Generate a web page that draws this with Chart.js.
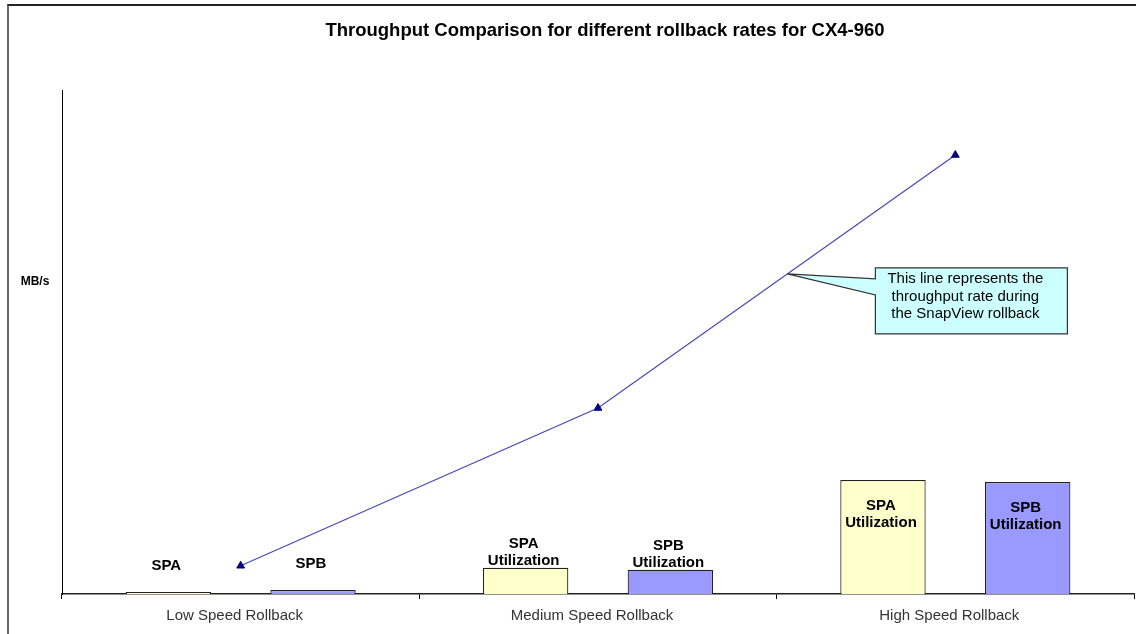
<!DOCTYPE html>
<html>
<head>
<meta charset="utf-8">
<script src="https://cdn.jsdelivr.net/npm/chart.js@4"></script>
<style>
    html, body { margin: 0; padding: 0; background: #fff; }
    #wrap { position: relative; width: 1136px; height: 634px; }
    #frame {
        position: absolute; left: 7px; top: 4px; right: 0; bottom: 0;
        border-left: 2px solid #666; border-top: 2px solid #222;
        pointer-events: none;
    }
</style>
</head>
<body>
<div id="wrap">
    <canvas id="grafico" width="1136" height="634"></canvas>
    <div id="frame"></div>
</div>
<script>
const categorias = ["Low Speed Rollback", "Medium Speed Rollback", "High Speed Rollback"];
const spaUtilizacao = [0.4, 5.2, 22.6];
const spbUtilizacao = [0.8, 4.8, 22.2];
const throughput = [5.6, 36.9, 87.1];
const rotulosSpa = [["SPA"], ["SPA", "Utilization"], ["SPA", "Utilization"]];
const rotulosSpb = [["SPB"], ["SPB", "Utilization"], ["SPB", "Utilization"]];
const textoNota = ["This line represents the", "throughput rate during", "the SnapView rollback"];
const titulo = "Throughput Comparison for different rollback rates for CX4-960";

// distance from bar top to first label line (Excel placed these by hand)
const deslocRotulos = [-26, -24, 26];

const fonte = "'Liberation Sans', Arial, sans-serif";

const textos = {
    id: "textos",
    afterDraw(chart) {
        const ctx = chart.ctx;

        ctx.save();
        ctx.fillStyle = "#000";
        ctx.textAlign = "center";
        ctx.textBaseline = "middle";

        // title
        ctx.font = "bold 18.5px " + fonte;
        ctx.fillText(titulo, 605, 31);

        // y label
        ctx.font = "bold 12px " + fonte;
        ctx.fillText("MB/s", 35, 282);

        // bar labels
        ctx.font = "bold 15px " + fonte;
        [rotulosSpa, rotulosSpb].forEach((rotulos, ds) => {
            const meta = chart.getDatasetMeta(ds);
            meta.data.forEach((barra, i) => {
                rotulos[i].forEach((linha, k) => {
                    ctx.fillText(linha, barra.x - 2, barra.y + deslocRotulos[i] + k * 17);
                });
            });
        });

        // callout pointing at the line
        const pts = chart.getDatasetMeta(2).data;
        const t = 0.53;
        const px = pts[1].x + (pts[2].x - pts[1].x) * t;
        const py = pts[1].y + (pts[2].y - pts[1].y) * t;
        const bx = px + 88;
        const by = py - 6;
        const bw = 192;
        const bh = 66;

        ctx.beginPath();
        ctx.moveTo(bx, by);
        ctx.lineTo(bx + bw, by);
        ctx.lineTo(bx + bw, by + bh);
        ctx.lineTo(bx, by + bh);
        ctx.lineTo(bx, by + 27);
        ctx.lineTo(px, py);
        ctx.lineTo(bx, by + 11);
        ctx.closePath();
        ctx.fillStyle = "#ccffff";
        ctx.fill();
        ctx.strokeStyle = "#333";
        ctx.lineWidth = 1.2;
        ctx.stroke();

        ctx.fillStyle = "#000";
        ctx.font = "15px " + fonte;
        textoNota.forEach((linha, k) => {
            ctx.fillText(linha, bx + bw / 2 - 6, by + 11 + k * 17.5);
        });

        ctx.restore();
    }
};

document.addEventListener("DOMContentLoaded", () => {
    const ctx = document.getElementById("grafico").getContext("2d");

    new Chart(ctx, {
        type: "bar",
        data: {
            labels: categorias,
            datasets: [
                {
                    label: "SPA Utilization",
                    data: spaUtilizacao,
                    backgroundColor: "#ffffcc",
                    borderColor: "#222",
                    borderWidth: 1.2,
                    categoryPercentage: 0.81,
                    barPercentage: 0.59,
                    order: 2
                },
                {
                    label: "SPB Utilization",
                    data: spbUtilizacao,
                    backgroundColor: "#9999ff",
                    borderColor: "#222",
                    borderWidth: 1.2,
                    categoryPercentage: 0.81,
                    barPercentage: 0.59,
                    order: 2
                },
                {
                    type: "line",
                    label: "Throughput",
                    data: throughput,
                    borderColor: "#4848b8",
                    borderWidth: 1.2,
                    pointStyle: "triangle",
                    pointRadius: 4.5,
                    pointBackgroundColor: "#000080",
                    pointBorderColor: "#000080",
                    pointBorderWidth: 1,
                    tension: 0,
                    order: 1
                }
            ]
        },
        options: {
            responsive: false,
            animation: false,
            layout: {
                autoPadding: false,
                padding: { left: 62, right: 2, top: 90, bottom: 0 }
            },
            plugins: {
                legend: { display: false },
                tooltip: { enabled: false },
                title: { display: false }
            },
            scales: {
                x: {
                    afterFit: (s) => {
                        s.height = 40;
                        s.paddingLeft = 0;
                        s.paddingRight = 0;
                    },
                    grid: {
                        display: true,
                        drawOnChartArea: false,
                        drawTicks: true,
                        tickLength: 5,
                        color: "#000",
                        offset: true
                    },
                    border: { display: true, color: "#222", width: 1.5 },
                    ticks: {
                        color: "#333",
                        padding: 8,
                        labelOffset: -6,
                        font: { family: fonte, size: 15 }
                    }
                },
                y: {
                    min: 0,
                    max: 100,
                    afterFit: (s) => { s.width = 0; },
                    grid: { display: false },
                    border: { display: true, color: "#000", width: 1 },
                    ticks: { display: false }
                }
            }
        },
        plugins: [textos]
    });
});
</script>
</body>
</html>
